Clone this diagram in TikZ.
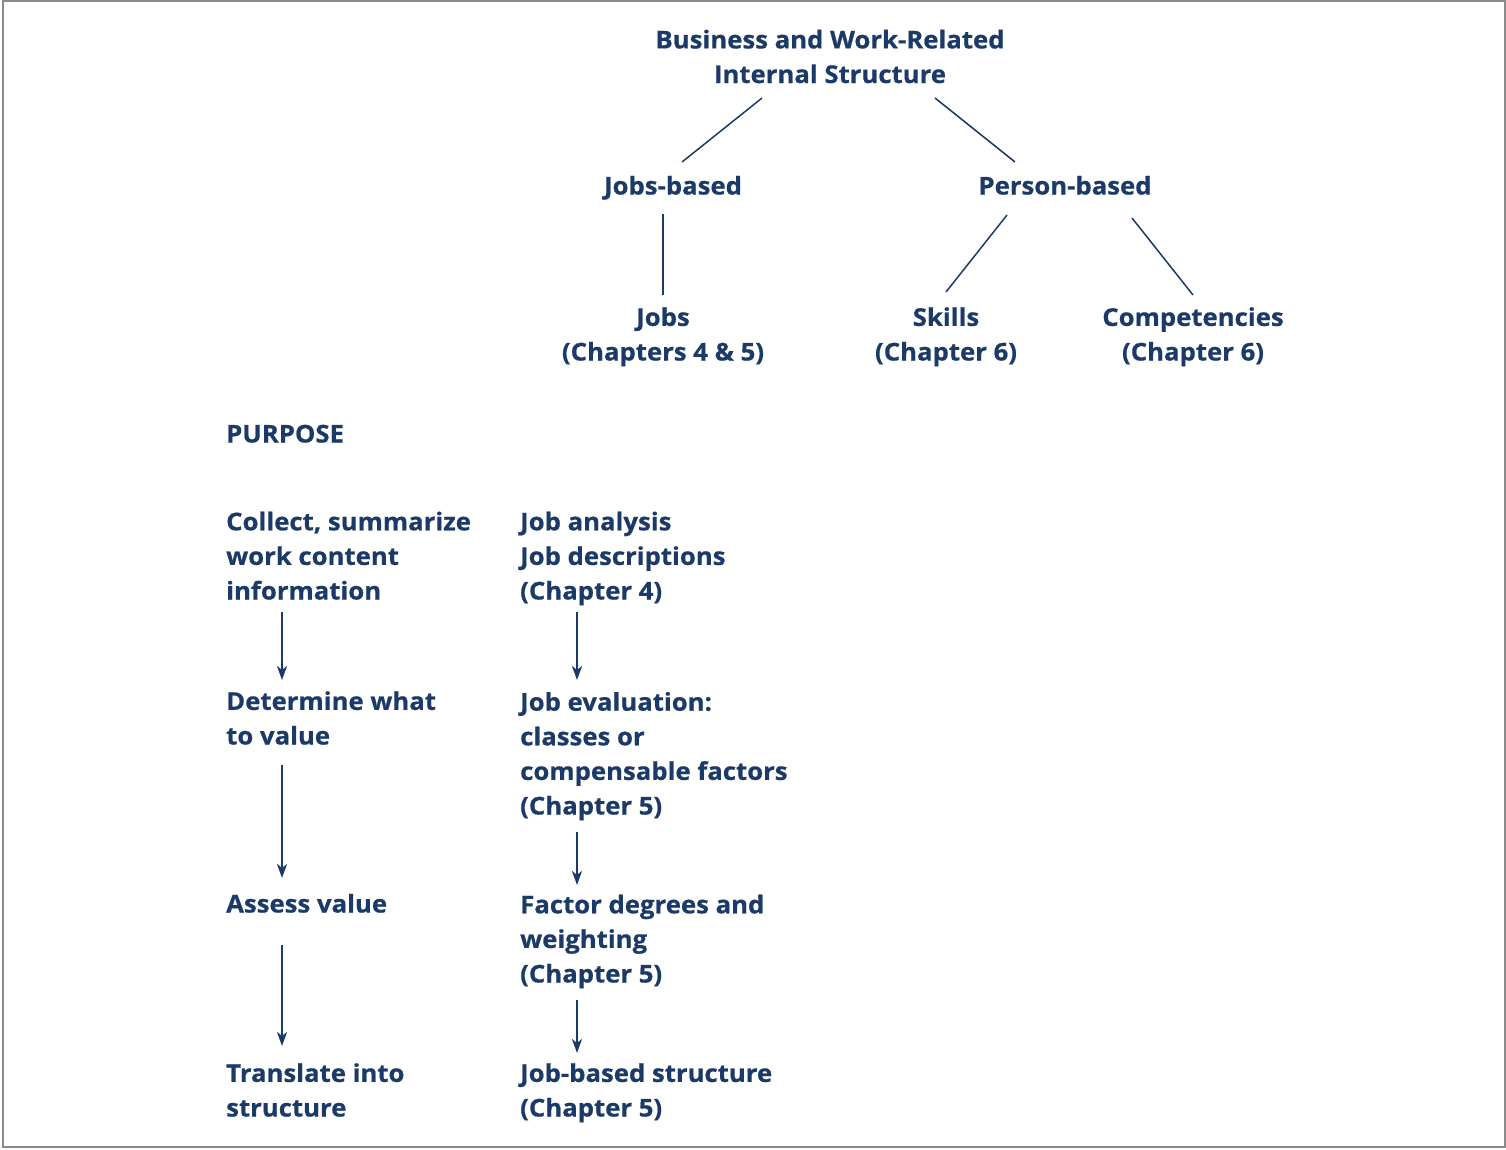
\documentclass[tikz,border=0pt]{standalone}
\usepackage{fontspec}
\setmainfont{Open Sans}[UprightFont=* Bold,FakeStretch=1.05,FakeBold=0.6]
\usetikzlibrary{arrows.meta,calc}
\definecolor{navy}{HTML}{1B3A68}
\definecolor{frame}{HTML}{8A8A8A}
\begin{document}
\begin{tikzpicture}[x=1pt,y=-1pt,
  txt/.style={inner sep=0pt,text=navy,font=\fontsize{24.5}{34.6}\selectfont},
  ctxt/.style={txt,align=center,anchor=base},
  ltxt/.style={txt,align=left,anchor=base west},
  tree/.style={draw=navy,line width=1.5pt},
  flow/.style={draw=navy,line width=2.4pt,-{Stealth[length=14pt,width=10pt,inset=4pt]}}]
\useasboundingbox (0,0) rectangle (1506,1149);
\draw[frame,line width=2pt] (3,1) rectangle (1505,1147);
% tree (node anchors: baseline of last line)
\node[ctxt] (root) at (830,83) {Business and Work-Related\\Internal Structure};
\node[ctxt] (jb) at (673,194.5) {Jobs-based};
\node[ctxt] (pb) at (1065,194.5) {Person-based};
\node[ctxt] (jobs) at (663,360.5) {Jobs\\(Chapters 4 \& 5)};
\node[ctxt] (skills) at (946,360.5) {Skills\\(Chapter 6)};
\node[ctxt] (comp) at (1193,360.5) {Competencies\\(Chapter 6)};
\draw[tree] ($(root.base)+(-68,15)$) -- ($(jb.base)+(9,-32.5)$);
\draw[tree] ($(root.base)+(105,15)$) -- ($(pb.base)+(-50,-32.5)$);
\draw[tree] ($(jb.base)+(-10,19.5)$) -- ($(jobs.base)+(0,-65.5)$);
\draw[tree] ($(pb.base)+(-58,20.5)$) -- ($(skills.base)+(0,-68.5)$);
\draw[tree] ($(pb.base)+(67,23.5)$) -- ($(comp.base)+(0,-65.5)$);
% purpose
\node[ltxt] (purpose) at (226,442.5) {PURPOSE};
\node[ltxt] (l1) at (226,599.5) {Collect, summarize\\work content\\information};
\node[ltxt] (l2) at (226,744.5) {Determine what\\to value};
\node[ltxt] (l3) at (226,912.5) {Assess value};
\node[ltxt] (l4) at (226,1116.5) {Translate into\\structure};
\node[ltxt] (r1) at (520,599.5) {Job analysis\\Job descriptions\\(Chapter 4)};
\node[ltxt] (r2) at (520,814.5) {Job evaluation:\\classes or\\compensable factors\\(Chapter 5)};
\node[ltxt] (r3) at (520,982.5) {Factor degrees and\\weighting\\(Chapter 5)};
\node[ltxt] (r4) at (520,1116.5) {Job-based structure\\(Chapter 5)};
\draw[flow] ($(l1.base west)+(56,12.5)$) -- ($(l2.base west)+(56,-64.5)$);
\draw[flow] ($(l2.base west)+(56,20.5)$) -- ($(l3.base west)+(56,-34.5)$);
\draw[flow] ($(l3.base west)+(56,32.5)$) -- ($(l4.base west)+(56,-70.5)$);
\draw[flow] ($(r1.base west)+(57,12.5)$) -- ($(r2.base west)+(57,-134.5)$);
\draw[flow] ($(r2.base west)+(57,17.5)$) -- ($(r3.base west)+(57,-97.5)$);
\draw[flow] ($(r3.base west)+(57,17.5)$) -- ($(r4.base west)+(57,-63.5)$);
\end{tikzpicture}
\end{document}
